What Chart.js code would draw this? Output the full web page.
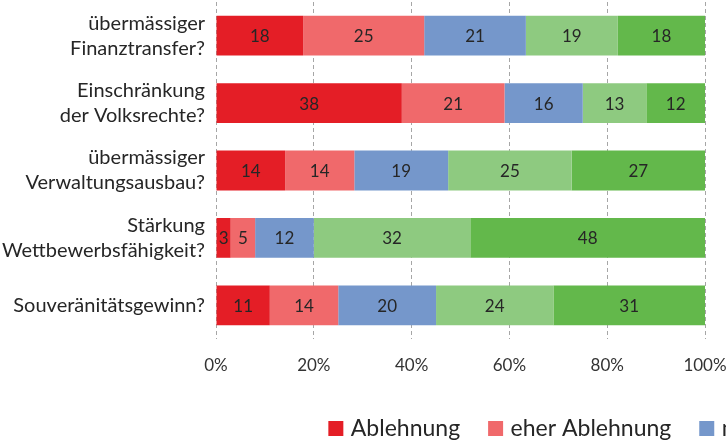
<!DOCTYPE html>
<html>
<head>
<meta charset="utf-8">
<script src="https://cdn.jsdelivr.net/npm/chart.js@4.4.0/dist/chart.umd.min.js"></script>
<style>
  html, body { margin: 0; padding: 0; background: #fff; overflow: hidden; }
  #wrap { width: 726px; height: 443px; overflow: hidden; position: relative; }
  #box { position: absolute; left: 0; top: 0; height: 443px; }
</style>
</head>
<body>
<div id="wrap"><div id="box"><canvas id="chart"></canvas></div></div>
<script>
// Chart data
const categories = [
    ['übermässiger', 'Finanztransfer?'],
    ['Einschränkung', 'der Volksrechte?'],
    ['übermässiger', 'Verwaltungsausbau?'],
    ['Stärkung', 'Wettbewerbsfähigkeit?'],
    'Souveränitätsgewinn?'
];
const seriesNames = ['Ablehnung', 'eher Ablehnung', 'neutral', 'eher Zustimmung', 'Zustimmung'];
const ablehnung = [18, 38, 14, 3, 11];
const eherAblehnung = [25, 21, 14, 5, 14];
const neutral = [21, 16, 19, 12, 20];
const eherZustimmung = [19, 13, 25, 32, 24];
const zustimmung = [18, 12, 27, 48, 31];
const tickLabels = ['0%', '20%', '40%', '60%', '80%', '100%'];

const colors = ['#E41E26', '#F0696B', '#7597CB', '#8ECA80', '#63B84B'];
const seriesValues = [ablehnung, eherAblehnung, neutral, eherZustimmung, zustimmung];

// each row is shown as 100%
const rowTotals = categories.map((c, i) => seriesValues.reduce((s, arr) => s + arr[i], 0));

// the original chart is wider than the picture, the legend runs off the right edge
const canvasWidth = 1529;
const plotRight = 705;
const box = document.getElementById('box');
box.style.width = canvasWidth + 'px';
const canvas = document.getElementById('chart');
canvas.width = canvasWidth;
canvas.height = 443;

const fontFamily = 'Lato, "Open Sans", sans-serif';

// draws the raw value in the middle of each segment
const valueLabels = {
    id: 'valueLabels',
    afterDatasetsDraw(chart) {
        const ctx = chart.ctx;
        ctx.save();
        ctx.font = '17px ' + fontFamily;
        ctx.fillStyle = '#262626';
        ctx.textAlign = 'center';
        ctx.textBaseline = 'middle';
        chart.data.datasets.forEach((ds, di) => {
            chart.getDatasetMeta(di).data.forEach((bar, i) => {
                const c = bar.getCenterPoint();
                ctx.fillText(String(ds.raw[i]), c.x, c.y + 1);
            });
        });
        ctx.restore();
    }
};

new Chart(canvas, {
    type: 'bar',
    data: {
        labels: categories,
        datasets: seriesNames.map((name, k) => ({
            label: name,
            raw: seriesValues[k],
            data: seriesValues[k].map((v, i) => v / rowTotals[i] * 100),
            backgroundColor: colors[k],
            borderWidth: 0,
            barPercentage: 0.59,
            categoryPercentage: 1
        }))
    },
    options: {
        indexAxis: 'y',
        responsive: false,
        animation: false,
        layout: { padding: { left: 0, right: 0, top: 2, bottom: -7 } },
        scales: {
            x: {
                stacked: true,
                min: 0,
                max: 100,
                border: { display: false, dash: [4, 3] },
                grid: {
                    color: '#A6A6A6',
                    lineWidth: 1,
                    drawTicks: false
                },
                afterFit: (scale) => { scale.height = 46; },
                ticks: {
                    stepSize: 20,
                    padding: 16,
                    color: '#333333',
                    font: { size: 17, family: fontFamily },
                    callback: (v, i) => tickLabels[i]
                }
            },
            y: {
                stacked: true,
                border: { display: false },
                grid: { display: false, drawTicks: false },
                afterFit: (scale) => {
                    scale.width = 216;
                    scale.paddingTop = 0;
                    scale.paddingBottom = 0;
                },
                ticks: {
                    padding: 11,
                    color: '#262626',
                    font: { size: 20, family: fontFamily, lineHeight: 1.25 }
                }
            },
            // empty axis that only keeps the space right of the plot
            spacer: {
                axis: 'y',
                position: 'right',
                border: { display: false },
                grid: { display: false, drawTicks: false },
                ticks: { display: false },
                afterFit: (scale) => { scale.width = canvasWidth - plotRight; }
            }
        },
        plugins: {
            legend: {
                position: 'bottom',
                labels: {
                    // square marker drawn as point style so the text sits close to it
                    usePointStyle: true,
                    pointStyle: 'rect',
                    boxWidth: 7,
                    boxHeight: 15,
                    padding: 32,
                    color: '#262626',
                    font: { size: 23, family: fontFamily }
                }
            },
            tooltip: { enabled: false }
        }
    },
    plugins: [valueLabels]
});
</script>
</body>
</html>
